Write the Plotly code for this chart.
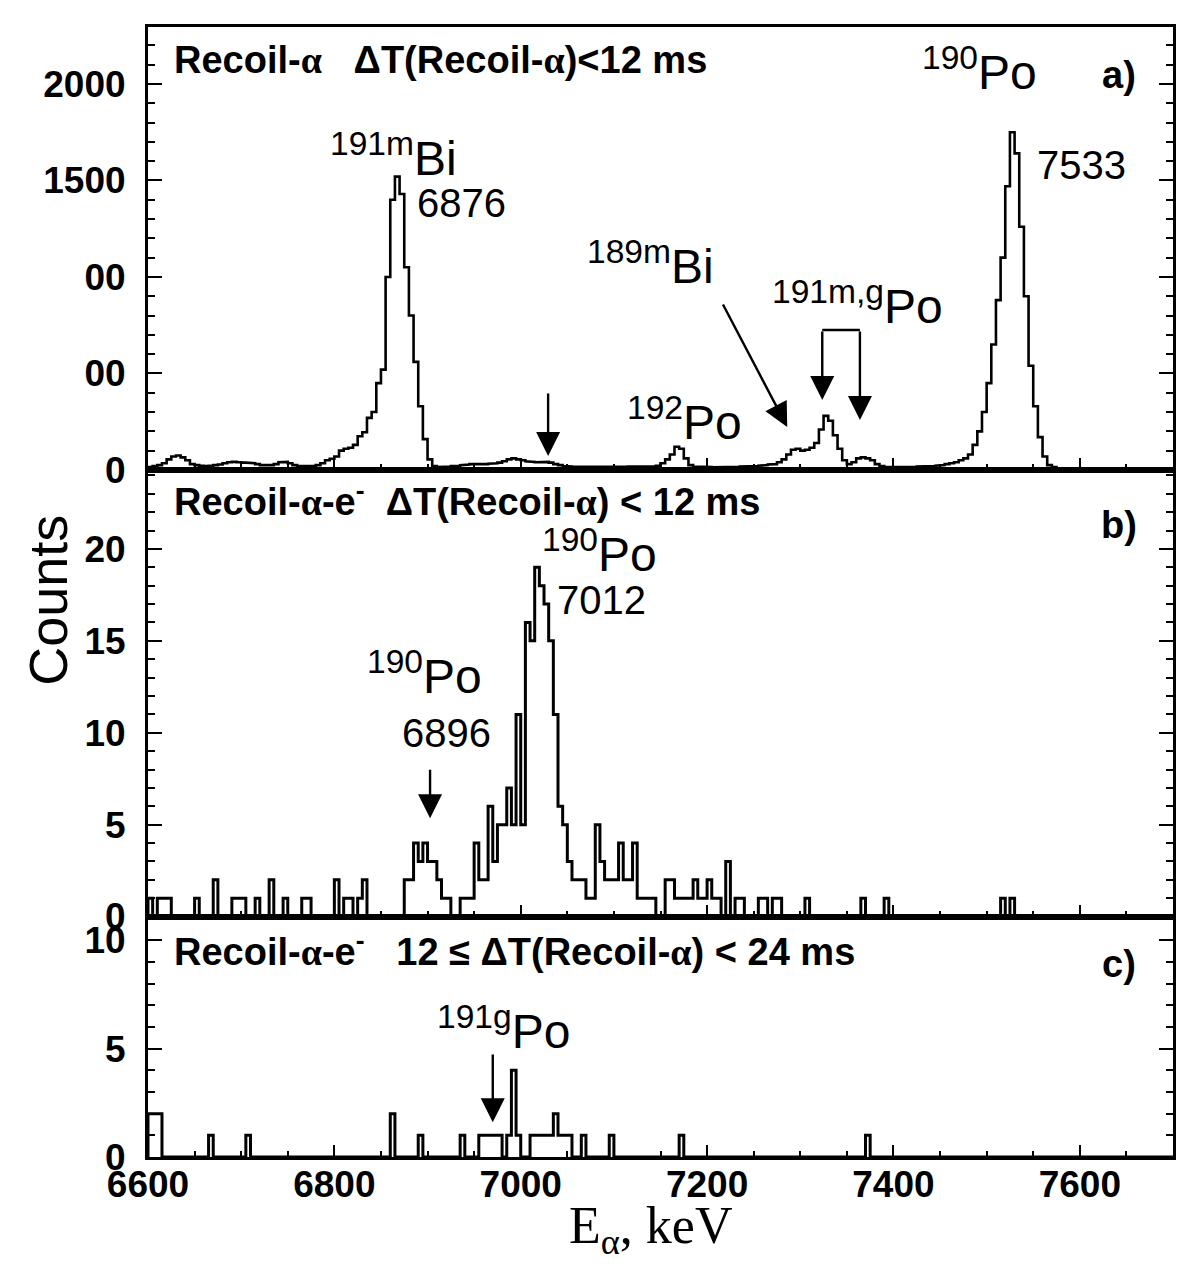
import numpy as np
import plotly.graph_objects as go

# ---------------- data ----------------
E_START = 6600   # keV, first bin edge
BIN_KEV = 5      # keV per bin

# a) Recoil-alpha, dT < 12 ms  (counts per 5 keV bin, 6600..7700)
counts_a = [
    15, 20, 25, 35, 55, 70, 75, 65, 50, 30,
    25, 22, 20, 22, 25, 28, 35, 40, 42, 40,
    38, 38, 35, 30, 25, 22, 25, 30, 40, 42,
    35, 25, 20, 18, 18, 20, 25, 35, 50, 58,
    70, 100, 110, 115, 130, 175, 195, 270, 300, 450,
    520, 1000, 1400, 1520, 1430, 1050, 800, 560, 330, 160,
    55, 20, 15, 15, 18, 20, 22, 25, 28, 30,
    30, 28, 30, 32, 35, 38, 45, 55, 60, 55,
    50, 45, 42, 40, 40, 42, 38, 30, 25, 20,
    18, 16, 15, 14, 14, 14, 14, 15, 15, 15,
    16, 16, 17, 18, 18, 18, 15, 15, 18, 22,
    35, 55, 80, 120, 110, 60, 25, 18, 15, 15,
    15, 14, 15, 14, 15, 15, 16, 18, 18, 20,
    20, 22, 25, 28, 30, 40, 55, 80, 105, 110,
    100, 105, 115, 140, 210, 280, 255, 180, 110, 50,
    30, 40, 60, 65, 60, 50, 30, 20, 15, 14,
    14, 15, 15, 16, 16, 18, 18, 20, 20, 22,
    25, 30, 35, 40, 50, 60, 80, 130, 200, 300,
    450, 650, 880, 1100, 1470, 1750, 1640, 1260, 900, 540,
    330, 170, 70, 25, 15, 10, 10, 10, 10, 9,
    9, 9, 8, 8, 8, 8, 8, 8, 8, 8,
    8, 8, 8, 8, 8, 8, 8, 8, 8, 8,
]

# b) Recoil-alpha-e, dT < 12 ms
counts_b = [
    1, 0, 1, 1, 1, 0, 0, 0, 0, 0,
    1, 0, 0, 0, 2, 0, 0, 0, 1, 1,
    1, 0, 0, 1, 0, 0, 2, 0, 0, 1,
    0, 0, 0, 1, 1, 0, 0, 0, 0, 0,
    2, 0, 1, 1, 0, 1, 2, 0, 0, 0,
    0, 0, 0, 0, 0, 2, 2, 4, 3, 4,
    3, 3, 2, 1, 1, 0, 0, 1, 1, 1,
    4, 2, 2, 6, 3, 5, 5, 7, 5, 11,
    5, 16, 15, 19, 18, 17, 15, 11, 6, 5,
    3, 2, 2, 2, 1, 1, 5, 3, 2, 2,
    2, 4, 2, 2, 4, 1, 1, 1, 1, 0,
    0, 2, 2, 1, 1, 1, 1, 2, 1, 1,
    2, 1, 1, 0, 3, 0, 1, 1, 0, 0,
    0, 1, 1, 0, 1, 1, 0, 0, 0, 0,
    0, 1, 0, 0, 0, 0, 0, 0, 0, 0,
    0, 0, 0, 1, 0, 0, 0, 0, 1, 0,
    0, 0, 0, 0, 0, 0, 0, 0, 0, 0,
    0, 0, 0, 0, 0, 0, 0, 0, 0, 0,
    0, 0, 0, 1, 0, 1, 0, 0, 0, 0,
    0, 0, 0, 0, 0, 0, 0, 0, 0, 0,
    0, 0, 0, 0, 0, 0, 0, 0, 0, 0,
    0, 0, 0, 0, 0, 0, 0, 0, 0, 0,
]

# c) Recoil-alpha-e, 12 <= dT < 24 ms
counts_c = [
    2, 2, 2, 0, 0, 0, 0, 0, 0, 0,
    0, 0, 0, 1, 0, 0, 0, 0, 0, 0,
    0, 1, 0, 0, 0, 0, 0, 0, 0, 0,
    0, 0, 0, 0, 0, 0, 0, 0, 0, 0,
    0, 0, 0, 0, 0, 0, 0, 0, 0, 0,
    0, 0, 2, 0, 0, 0, 0, 0, 1, 0,
    0, 0, 0, 0, 0, 0, 0, 1, 0, 0,
    0, 1, 1, 1, 1, 1, 0, 1, 4, 1,
    0, 0, 1, 1, 1, 1, 1, 2, 1, 1,
    1, 0, 0, 1, 0, 0, 0, 0, 0, 1,
    0, 0, 0, 0, 0, 0, 0, 0, 0, 0,
    0, 0, 0, 0, 1, 0, 0, 0, 0, 0,
    0, 0, 0, 0, 0, 0, 0, 0, 0, 0,
    0, 0, 0, 0, 0, 0, 0, 0, 0, 0,
    0, 0, 0, 0, 0, 0, 0, 0, 0, 0,
    0, 0, 0, 0, 1, 0, 0, 0, 0, 0,
    0, 0, 0, 0, 0, 0, 0, 0, 0, 0,
    0, 0, 0, 0, 0, 0, 0, 0, 0, 0,
    0, 0, 0, 0, 0, 0, 0, 0, 0, 0,
    0, 0, 0, 0, 0, 0, 0, 0, 0, 0,
    0, 0, 0, 0, 0, 0, 0, 0, 0, 0,
    0, 0, 0, 0, 0, 0, 0, 0, 0, 0,
]

X_RANGE = [6600, 7700]
ytick_a_vals = [0, 500, 1000, 1500, 2000]
ytick_a_text = ["0", "00", "00", "1500", "2000"]
ytick_b_vals = [0, 5, 10, 15, 20]
ytick_c_vals = [0, 5, 10]
xtick_vals = [6600, 6800, 7000, 7200, 7400, 7600]

# ---------------- helpers ----------------
def step_xy(counts):
    n = len(counts)
    edges = E_START + BIN_KEV * np.arange(n + 1)
    x = np.repeat(edges, 2)
    y = np.concatenate([[0], np.repeat(counts, 2), [0]])
    return x, y

SANS = "Liberation Sans, Arial, Helvetica, sans-serif"
SERIF = "Liberation Serif, Times New Roman, serif"
ALPHA = "<span style='font-family:Liberation Serif, Times New Roman, serif'>α</span>"
NB = "\u00a0"

fig = go.Figure()
for cnt, xa, ya, lw in [(counts_a, "x", "y", 2.6), (counts_b, "x2", "y2", 3.0),
                        (counts_c, "x3", "y3", 3.0)]:
    sx, sy = step_xy(cnt)
    fig.add_trace(go.Scatter(x=sx, y=sy, mode="lines", xaxis=xa, yaxis=ya,
                             line=dict(color="black", width=lw), showlegend=False,
                             hoverinfo="skip"))

tickfont = dict(family=SANS, size=37, color="black", weight="bold")

def xax(show_labels, anchor):
    return dict(range=X_RANGE, anchor=anchor, showline=True, linewidth=3, linecolor="black",
                mirror=True, ticks="inside", ticklen=12, tickwidth=2, tickcolor="black",
                tickvals=xtick_vals, showticklabels=show_labels, tickfont=tickfont,
                ticklabelstandoff=-7,
                minor=dict(dtick=50, tick0=6600, ticks="inside", ticklen=6, tickwidth=2,
                           tickcolor="black"),
                showgrid=False, zeroline=False)

def yax(domain, rng, vals, text, minor_dtick, anchor):
    d = dict(domain=domain, range=rng, anchor=anchor, showline=True, linewidth=3,
             linecolor="black", mirror="ticks", ticks="inside", ticklen=14, tickwidth=2,
             tickcolor="black", tickvals=vals, tickfont=tickfont, ticklabelstandoff=12,
             minor=dict(dtick=minor_dtick, ticks="inside", ticklen=7, tickwidth=2,
                        tickcolor="black"),
             showgrid=False, zeroline=False)
    if text is not None:
        d["ticktext"] = text
    return d

DOM_C = [0.0, 0.2128]
DOM_B = [0.2128, 0.608]
DOM_A = [0.608, 1.0]

fig.update_layout(
    width=1202, height=1264,
    margin=dict(l=148, r=29, t=27, b=107),
    paper_bgcolor="white", plot_bgcolor="white",
    xaxis=xax(False, "y"),
    xaxis2=xax(False, "y2"),
    xaxis3=xax(True, "y3"),
    yaxis=yax(DOM_A, [0, 2295], ytick_a_vals, ytick_a_text, 100, "x"),
    yaxis2=yax(DOM_B, [0, 24.3], ytick_b_vals, None, 1, "x2"),
    yaxis3=yax(DOM_C, [0, 11.1], ytick_c_vals, None, 1, "x3"),
    showlegend=False,
)

ann = []

def label(text, x, y, xr, yr, size, bold=False, xanchor="left", family=SANS):
    ann.append(dict(text=text, x=x, y=y, xref=xr, yref=yr, showarrow=False,
                    xanchor=xanchor, yanchor="middle",
                    font=dict(family=family, size=size, color="black",
                              weight="bold" if bold else "normal")))

def iso(mass, sym):
    return f"<sup>{mass}</sup>{sym}"

def arrow(xt, yt, xs, ys, xr, yr):
    ann.append(dict(text="", x=xt, y=yt, ax=xs, ay=ys, xref=xr, yref=yr,
                    axref=xr, ayref=yr, showarrow=True, arrowhead=2, arrowsize=2.0,
                    arrowwidth=2.4, arrowcolor="black", standoff=0))

TITLE_SIZE = 38

# panel a
label(f"Recoil-{ALPHA}{NB}{NB}{NB}ΔT(Recoil-{ALPHA})&lt;12 ms", 6625.8, 2124, "x", "y", TITLE_SIZE, bold=True)
label("a)", 7642, 2047, "x", "y", 38, bold=True, xanchor="center")
label(iso("191m", "Bi"), 6793, 1630, "x", "y", 48)
label("6876", 6886.6, 1383, "x", "y", 40)
label(iso("189m", "Bi"), 7069, 1070, "x", "y", 48)
label(iso("191m,g", "Po"), 7267.7, 865, "x", "y", 48)
label(iso("192", "Po"), 7112, 265, "x", "y", 48)
label(iso("190", "Po"), 7428.8, 2080, "x", "y", 48)
label("7533", 7552, 1580, "x", "y", 40)
arrow(7029.4, 72, 7029.4, 404, "x", "y")
arrow(7286, 223, 7216.2, 865, "x", "y")
arrow(7323.6, 363, 7323.6, 725, "x", "y")
arrow(7364, 259, 7364, 725, "x", "y")

# panel b
label(f"Recoil-{ALPHA}-e<sup>-</sup>{NB}{NB}ΔT(Recoil-{ALPHA}) &lt; 12 ms", 6625.8, 22.7, "x2", "y2", TITLE_SIZE, bold=True)
label("b)", 7642, 21.3, "x2", "y2", 38, bold=True, xanchor="center")
label(iso("190", "Po"), 7020.8, 19.9, "x2", "y2", 48)
label("7012", 7037, 17.2, "x2", "y2", 40)
label(iso("190", "Po"), 6833, 13.25, "x2", "y2", 48)
label("6896", 6870.5, 10.0, "x2", "y2", 40)
arrow(6902.7, 5.35, 6902.7, 8.07, "x2", "y2")

# panel c
label(f"Recoil-{ALPHA}-e<sup>-</sup>{NB}{NB}{NB}12 ≤ ΔT(Recoil-{ALPHA}) &lt; 24 ms", 6625.8, 9.6, "x3", "y3", TITLE_SIZE, bold=True)
label("c)", 7642, 8.9, "x3", "y3", 38, bold=True, xanchor="center")
label(iso("191g", "Po"), 6908, 5.95, "x3", "y3", 48)
arrow(6970, 1.6, 6970, 4.8, "x3", "y3")

# axis titles
ann.append(dict(text="Counts", x=-0.0976, y=0.493, xref="paper", yref="paper",
                showarrow=False, textangle=-90, xanchor="center", yanchor="middle",
                font=dict(family=SANS, size=54, color="black")))
ann.append(dict(text="E<sub>α</sub>, keV", x=0.49, y=-0.064, xref="paper", yref="paper",
                showarrow=False, xanchor="center", yanchor="middle",
                font=dict(family=SERIF, size=52, color="black")))

fig.update_layout(annotations=ann)
fig.add_shape(type="line", x0=7323.6, x1=7364, y0=725, y1=725, xref="x", yref="y",
              line=dict(color="black", width=2.4))

fig.write_html("out.html")
